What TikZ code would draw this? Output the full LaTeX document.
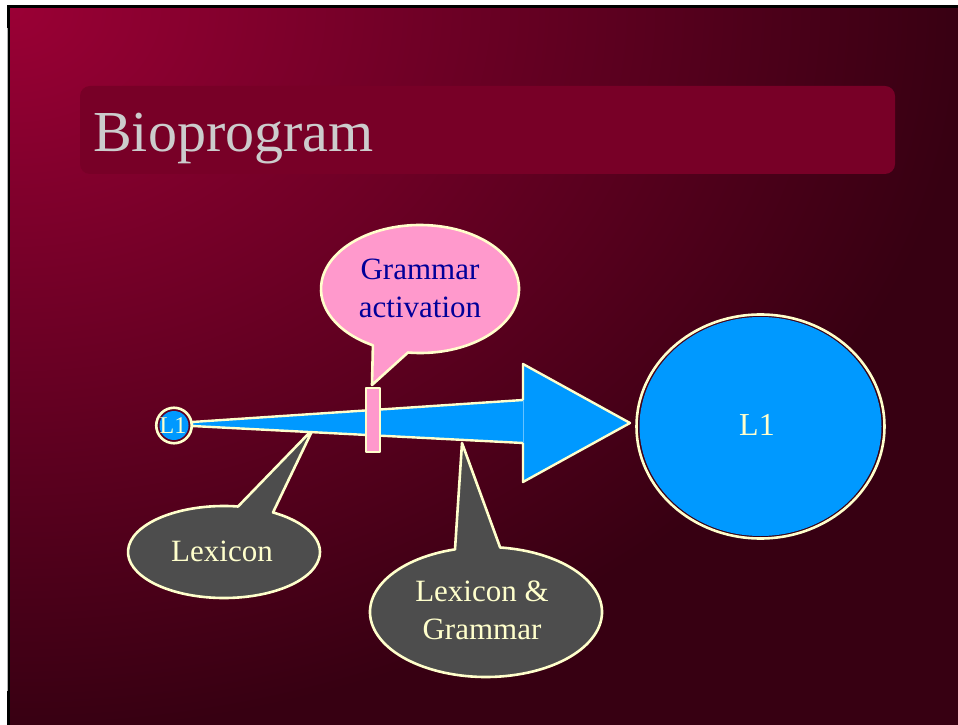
\documentclass[tikz,border=0pt]{standalone}
\usepackage{fontspec}
\setmainfont{Liberation Serif}
\usetikzlibrary{calc,shadings,shapes.geometric}
\definecolor{bgLight}{HTML}{9A0035}
\definecolor{bgDark}{HTML}{370012}
\definecolor{titleBox}{HTML}{780027}
\definecolor{titleText}{HTML}{CCCCCC}
\definecolor{cream}{HTML}{FFFFCC}
\definecolor{skyBlue}{HTML}{0099FF}
\definecolor{pinkFill}{HTML}{FF99CC}
\definecolor{navyText}{HTML}{000099}
\definecolor{slateFill}{HTML}{4D4D4D}
\begin{document}
\begin{tikzpicture}[x=1pt,y=1pt,
  outline/.style={draw=cream,line width=2.6pt,line join=round},
  bubble/.style={outline,line width=2.6pt},
  bubbletext/.style={align=center,font=\fontsize{31}{38}\selectfont,inner sep=0pt},
  ring/.style={draw=cream,line width=2.6pt,inner sep=0pt},
  core/.style={fill=skyBlue,inner sep=0pt}]
\useasboundingbox (0,0) rectangle (958,724);

% slide frame and background
\fill[white] (-2,-2) rectangle (960,726);
\fill[black] (7,-2) rectangle (960,719);
\begin{scope}
  \clip (10,-2) rectangle (960,715.5);
  \fill[bgDark] (10,-2) rectangle (960,715.5);
  \shade[inner color=bgLight,outer color=bgDark]
    (10,715.5) ellipse [x radius=960pt,y radius=725pt];
\end{scope}
\draw[gray!60,line width=0.8pt] (7.4,33) -- (7.4,696);

% title bar
\fill[titleBox,rounded corners=10pt] (80,550) rectangle (895,638);
\node[anchor=base west,inner sep=0pt,text=titleText,font=\fontsize{58}{60}\selectfont]
  (title) at (93,572) {Bioprogram};

% callout bubbles
\coordinate (gaC) at (420,435);
\coordinate (gaTip) at (372,339);
\fill[pinkFill,bubble] (gaTip) -- ([shift={(263:99pt and 64pt)}]gaC)
  arc[start angle=263,end angle=601.6,x radius=99pt,y radius=64pt] -- cycle;
\node[bubbletext,text=navyText] (gaText) at (420,436) {Grammar\\activation};

\coordinate (lxC) at (224,172);
\coordinate (lxTip) at (313,295);
\fill[slateFill,bubble] (lxTip) -- ([shift={(81.6:96pt and 46pt)}]lxC)
  arc[start angle=81.6,end angle=419.3,x radius=96pt,y radius=46pt] -- cycle;
\node[bubbletext,text=cream] (lxText) at (222,173) {Lexicon};

\coordinate (lgC) at (486,112);
\coordinate (lgTip) at (462,281);
\fill[slateFill,bubble] (lgTip) -- ([shift={(105.5:116pt and 65pt)}]lgC)
  arc[start angle=105.5,end angle=443,x radius=116pt,y radius=65pt] -- cycle;
\node[bubbletext,text=cream] (lgText) at (482,114) {Lexicon \&\\Grammar};

% growing wedge with arrow head
\coordinate (wStartTop) at (192,302);
\coordinate (wStartBot) at (192,298);
\coordinate (wEndTop) at (523,324);
\coordinate (wEndBot) at (523,281);
\coordinate (headTop) at (523,360);
\coordinate (headBot) at (523,242);
\coordinate (headTip) at (630,301);
\fill[skyBlue,outline,line width=2.4pt] (wStartTop) -- (wEndTop) -- (headTop) -- (headTip)
  -- (headBot) -- (wEndBot) -- (wStartBot) -- cycle;
\draw[skyBlue!60!white,line width=0.8pt] (wEndTop) -- (wEndBot);

% marker on the wedge
\fill[pinkFill,outline,line width=2.4pt] (366,272) rectangle (380,336);

% start and end circles: blue disc inside a cream ring
\node[core,circle,minimum size=29pt] (small) at (174,298.5) {};
\node[ring,circle,minimum size=35.5pt] (smallRing) at (174,298.5) {};
\node[text=cream,font=\fontsize{24}{26}\selectfont,inner sep=0pt] (smallText) at (173,298.5) {L1};
\node[core,ellipse,minimum width=242pt,minimum height=219pt] (big) at (760.5,297.5) {};
\node[ring,ellipse,minimum width=248pt,minimum height=224pt] (bigRing) at (760.5,297.5) {};
\node[text=cream,font=\fontsize{32}{34}\selectfont,inner sep=0pt] (bigText) at (757,299) {L1};
\end{tikzpicture}
\end{document}
